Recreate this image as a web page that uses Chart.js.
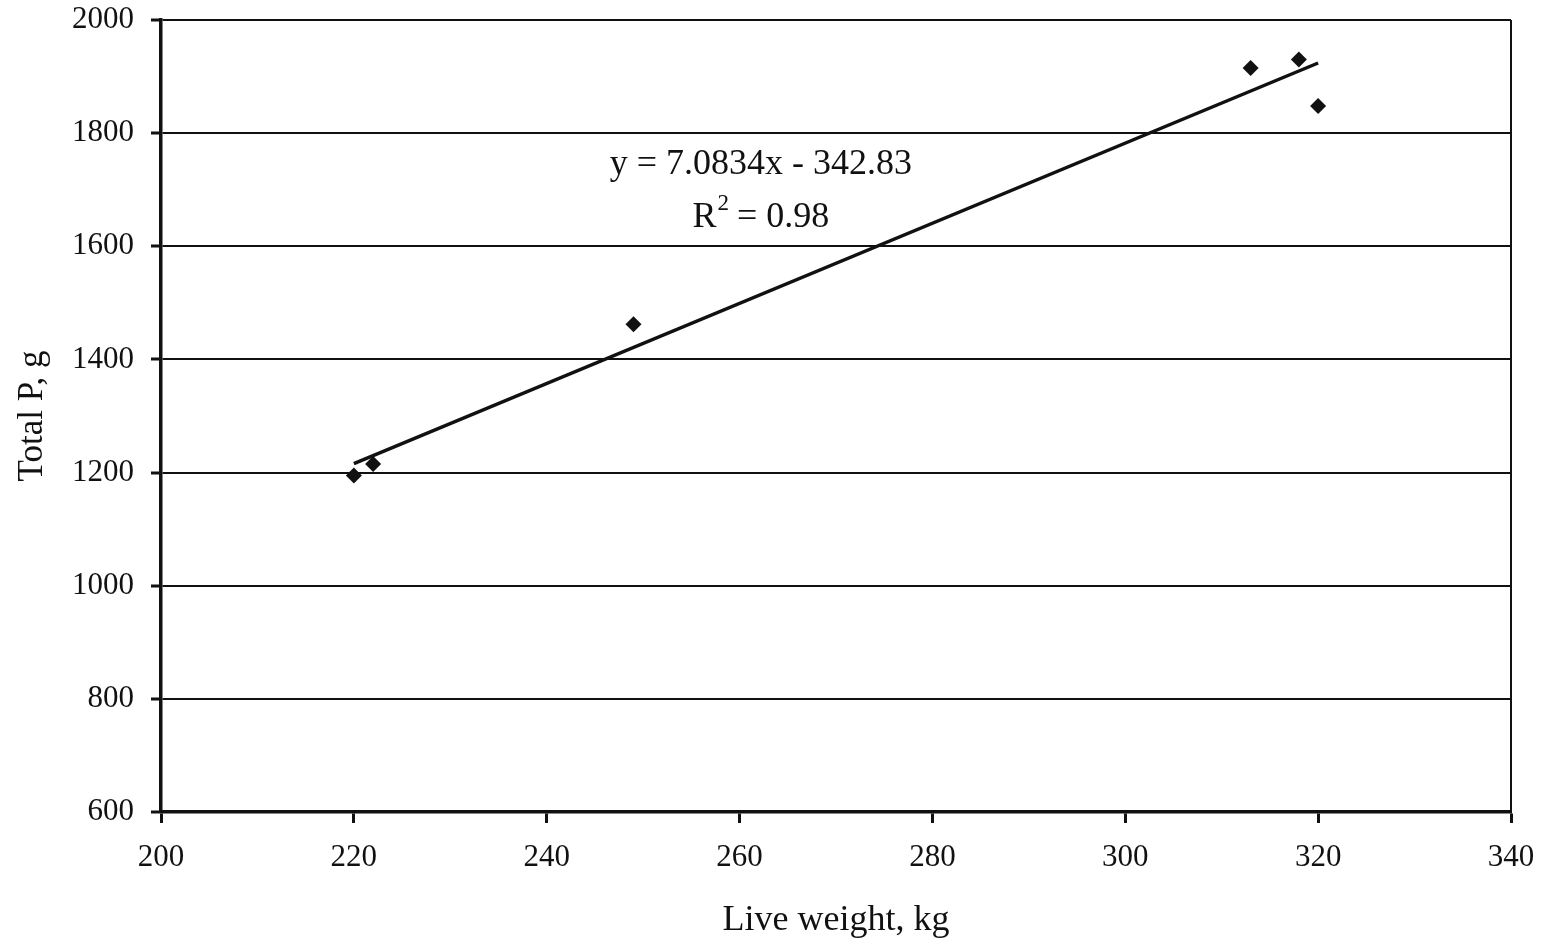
<!DOCTYPE html>
<html>
<head>
<meta charset="utf-8">
<title>Total P vs live weight</title>
<script src="https://cdn.jsdelivr.net/npm/chart.js@4.4.1/dist/chart.umd.min.js"></script>
<style>
  html, body { margin: 0; padding: 0; background: #fff; }
  #wrap { width: 1542px; height: 946px; }
</style>
</head>
<body>
<div id="wrap"><canvas id="grafica" width="1542" height="946"></canvas></div>
<script>
// datos
const pesoVivo = [220, 222, 249, 313, 318, 320];   // Live weight, kg
const fosforoTotal = [1195, 1215, 1462, 1915, 1930, 1848]; // Total P, g

// linea de tendencia (extremos)
const tendenciaX = [220, 320];
const tendenciaY = [1216, 1924];

const ticksX = [200, 220, 240, 260, 280, 300, 320, 340];
const ticksY = [600, 800, 1000, 1200, 1400, 1600, 1800, 2000];

const ecuacion = 'y = 7.0834x - 342.83';
const rCuadrado = '0.98';

const fuente = "'Liberation Serif', 'Times New Roman', serif";
const negro = '#111';

// borde derecho y texto de la ecuacion
const extras = {
    id: 'extras',
    afterDraw(chart) {
        const ctx = chart.ctx;
        const area = chart.chartArea;
        const x = chart.scales.x;
        const y = chart.scales.y;
        ctx.save();
        ctx.strokeStyle = negro;
        ctx.lineWidth = 2;
        ctx.beginPath();
        ctx.moveTo(area.right, area.top);
        ctx.lineTo(area.right, area.bottom);
        ctx.stroke();

        ctx.fillStyle = negro;
        ctx.textAlign = 'center';
        ctx.textBaseline = 'middle';
        ctx.font = '36px ' + fuente;
        const cx = x.getPixelForValue(262.2);
        ctx.fillText(ecuacion, cx, y.getPixelForValue(1745));

        // R^2 con superindice
        const yR = y.getPixelForValue(1651);
        const parte1 = 'R';
        const parte3 = ' = ' + rCuadrado;
        ctx.font = '36px ' + fuente;
        const w1 = ctx.measureText(parte1).width;
        const w3 = ctx.measureText(parte3).width;
        ctx.font = '23px ' + fuente;
        const w2 = ctx.measureText('2').width;
        const total = w1 + w2 + w3;
        const sx = cx - total / 2;
        ctx.textAlign = 'left';
        ctx.font = '36px ' + fuente;
        ctx.fillText(parte1, sx, yR);
        ctx.font = '23px ' + fuente;
        ctx.fillText('2', sx + w1 + 1, yR - 13);
        ctx.font = '36px ' + fuente;
        ctx.fillText(parte3, sx + w1 + w2, yR);
        ctx.restore();
    }
};

function crearGrafica() {
    const ctx = document.getElementById('grafica').getContext('2d');
    const puntos = pesoVivo.map((v, i) => ({ x: v, y: fosforoTotal[i] }));
    const linea = tendenciaX.map((v, i) => ({ x: v, y: tendenciaY[i] }));

    new Chart(ctx, {
        type: 'scatter',
        data: {
            datasets: [{
                label: 'Total P',
                data: puntos,
                pointStyle: 'rectRot',
                pointRadius: 8,
                pointHoverRadius: 8,
                backgroundColor: negro,
                borderColor: negro,
                borderWidth: 0,
                order: 1
            }, {
                label: 'Tendencia',
                type: 'line',
                data: linea,
                borderColor: negro,
                borderWidth: 3.5,
                pointRadius: 0,
                fill: false,
                order: 2
            }]
        },
        options: {
            responsive: false,
            animation: false,
            layout: { padding: { top: 20, right: 31, bottom: 0, left: 0 } },
            plugins: {
                legend: { display: false },
                tooltip: { enabled: false }
            },
            scales: {
                x: {
                    type: 'linear',
                    min: 200,
                    max: 340,
                    afterBuildTicks: (s) => { s.ticks = ticksX.map(v => ({ value: v })); },
                    afterFit: (s) => { s.height = 134; s.paddingLeft = 0; s.paddingRight = 0; },
                    grid: {
                        drawOnChartArea: false,
                        drawTicks: true,
                        tickLength: 11,
                        tickWidth: 3,
                        tickColor: negro
                    },
                    border: { color: negro, width: 3.5 },
                    ticks: {
                        color: negro,
                        font: { family: fuente, size: 31 },
                        padding: 16,
                        maxRotation: 0,
                        callback: (v) => String(v)
                    },
                    title: {
                        display: true,
                        text: 'Live weight, kg',
                        color: negro,
                        font: { family: fuente, size: 36 },
                        padding: { top: 0, bottom: 4 }
                    }
                },
                y: {
                    type: 'linear',
                    min: 600,
                    max: 2000,
                    afterBuildTicks: (s) => { s.ticks = ticksY.map(v => ({ value: v })); },
                    afterFit: (s) => { s.width = 161; s.paddingTop = 0; s.paddingBottom = 0; },
                    grid: {
                        color: negro,
                        lineWidth: 2,
                        drawTicks: true,
                        tickLength: 10,
                        tickWidth: 3,
                        tickColor: negro
                    },
                    border: { color: negro, width: 3.5 },
                    ticks: {
                        color: negro,
                        font: { family: fuente, size: 31 },
                        padding: 17,
                        callback: (v) => String(v)
                    },
                    title: {
                        display: true,
                        text: 'Total P, g',
                        color: negro,
                        font: { family: fuente, size: 35 },
                        padding: { top: 12, bottom: 0 }
                    }
                }
            }
        },
        plugins: [extras]
    });
}

document.addEventListener('DOMContentLoaded', crearGrafica);
</script>
</body>
</html>
